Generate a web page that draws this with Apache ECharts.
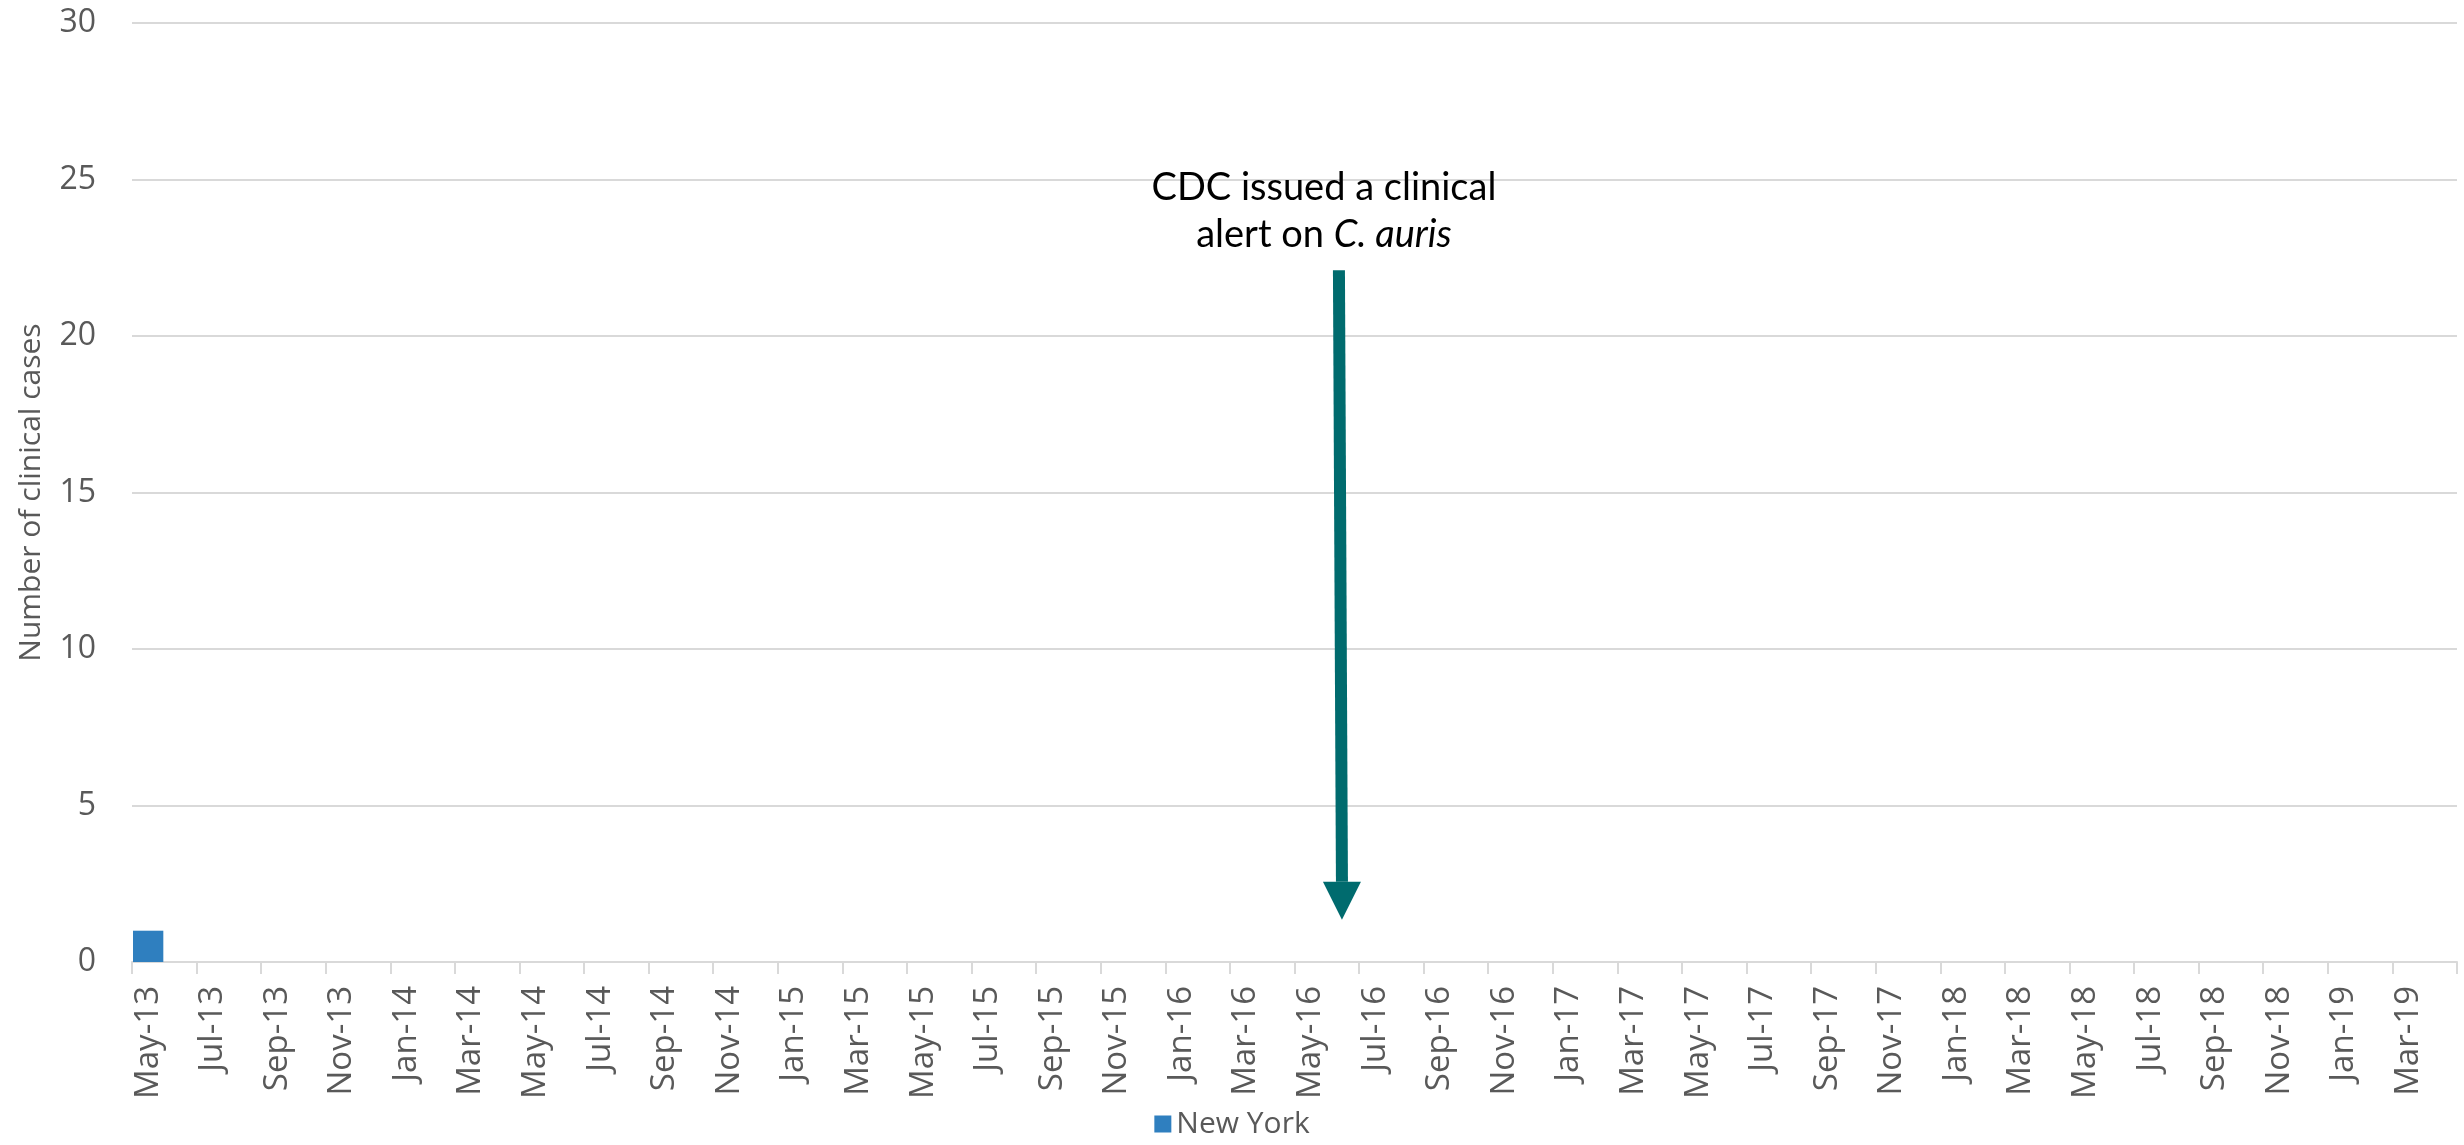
<!DOCTYPE html>
<html>
<head>
<meta charset="utf-8">
<script src="https://cdn.jsdelivr.net/npm/echarts@6/dist/echarts.min.js"></script>
<style>
  html, body { margin: 0; padding: 0; background: #ffffff; }
  #chart { width: 2464px; height: 1145px; }
</style>
</head>
<body>
<div id="chart"></div>
<script>
// Monthly reporting periods, May 2013 through April 2019
const months = [
  'May-13','Jun-13','Jul-13','Aug-13','Sep-13','Oct-13','Nov-13','Dec-13',
  'Jan-14','Feb-14','Mar-14','Apr-14','May-14','Jun-14','Jul-14','Aug-14','Sep-14','Oct-14','Nov-14','Dec-14',
  'Jan-15','Feb-15','Mar-15','Apr-15','May-15','Jun-15','Jul-15','Aug-15','Sep-15','Oct-15','Nov-15','Dec-15',
  'Jan-16','Feb-16','Mar-16','Apr-16','May-16','Jun-16','Jul-16','Aug-16','Sep-16','Oct-16','Nov-16','Dec-16',
  'Jan-17','Feb-17','Mar-17','Apr-17','May-17','Jun-17','Jul-17','Aug-17','Sep-17','Oct-17','Nov-17','Dec-17',
  'Jan-18','Feb-18','Mar-18','Apr-18','May-18','Jun-18','Jul-18','Aug-18','Sep-18','Oct-18','Nov-18','Dec-18',
  'Jan-19','Feb-19','Mar-19','Apr-19'
];

// Clinical cases reported in New York per month
const newYorkCases = [
  1,0,0,0,0,0,0,0,
  0,0,0,0,0,0,0,0,0,0,0,0,
  0,0,0,0,0,0,0,0,0,0,0,0,
  0,0,0,0,0,0,0,0,0,0,0,0,
  0,0,0,0,0,0,0,0,0,0,0,0,
  0,0,0,0,0,0,0,0,0,0,0,0,
  0,0,0,0
];

// Y axis range and step
const yMin = 0;
const yMax = 30;
const yStep = 5;

// Clinical alert marker: month, arrow top value, arrow tip value
const alertMarker = [['Jun-16', 22.1, 1.35]];
const alertText = 'CDC issued a clinical\nalert on {i|C. auris}';

const chart = echarts.init(document.getElementById('chart'), null, { renderer: 'canvas' });

const gray = '#595959';
const teal = '#006B6E';

chart.setOption({
  animation: false,
  backgroundColor: '#ffffff',
  grid: { left: 132, right: 7, top: 23, bottom: 183, containLabel: false },
  legend: {
    data: ['New York'],
    bottom: 1,
    left: 'center',
    itemWidth: 17,
    itemHeight: 17,
    itemGap: 20,
    textStyle: { color: gray, fontSize: 30, fontFamily: 'Open Sans' },
    icon: 'rect'
  },
  xAxis: {
    type: 'category',
    data: months,
    boundaryGap: true,
    axisLine: { lineStyle: { color: '#D9D9D9', width: 2 } },
    axisTick: { show: true, interval: 1, length: 12, lineStyle: { color: '#D9D9D9', width: 2 } },
    axisLabel: {
      interval: 1,
      rotate: 90,
      margin: 24,
      color: gray,
      fontSize: 33,
      fontFamily: 'Open Sans'
    },
    splitLine: { show: false }
  },
  yAxis: {
    type: 'value',
    min: yMin,
    max: yMax,
    interval: yStep,
    name: 'Number of clinical cases',
    nameLocation: 'middle',
    nameGap: 86,
    nameTextStyle: { color: gray, fontSize: 30, fontFamily: 'Open Sans' },
    axisLine: { show: false },
    axisTick: { show: false },
    axisLabel: { color: gray, fontSize: 32, fontFamily: 'Open Sans', margin: 36 },
    splitLine: { lineStyle: { color: '#D9D9D9', width: 2 } }
  },
  series: [
    {
      name: 'New York',
      type: 'bar',
      data: newYorkCases,
      barCategoryGap: '6%',
      itemStyle: { color: '#2F7FBF' }
    },
    {
      name: 'alert',
      type: 'custom',
      clip: false,
      silent: true,
      data: alertMarker,
      encode: { x: 0, y: [1, 2] },
      renderItem: function (params, api) {
        const cat = api.value(0);
        const top = api.coord([cat, api.value(1)]);
        const tip = api.coord([cat, api.value(2)]);
        const shaftW = 12;
        const headW = 38;
        const headH = 38;
        const x = top[0] - 4;
        return {
          type: 'group',
          children: [
            {
              type: 'polygon',
              shape: {
                points: [
                  [x - shaftW / 2, top[1]],
                  [x + shaftW / 2, top[1]],
                  [tip[0] + shaftW / 2 - 1, tip[1] - headH],
                  [tip[0] - shaftW / 2 - 1, tip[1] - headH]
                ]
              },
              style: { fill: teal }
            },
            {
              type: 'polygon',
              shape: {
                points: [
                  [tip[0] - headW / 2 - 1, tip[1] - headH],
                  [tip[0] + headW / 2 - 1, tip[1] - headH],
                  [tip[0] - 1, tip[1]]
                ]
              },
              style: { fill: teal }
            },
            {
              type: 'text',
              style: {
                x: top[0] - 19,
                y: top[1] - 12,
                text: alertText,
                align: 'center',
                verticalAlign: 'bottom',
                fill: '#000000',
                fontSize: 38,
                fontFamily: 'Lato',
                lineHeight: 47,
                rich: {
                  i: { fontStyle: 'italic', fontSize: 38, fontFamily: 'Lato', fill: '#000000', lineHeight: 47 }
                }
              }
            }
          ]
        };
      }
    }
  ]
});
</script>
</body>
</html>
